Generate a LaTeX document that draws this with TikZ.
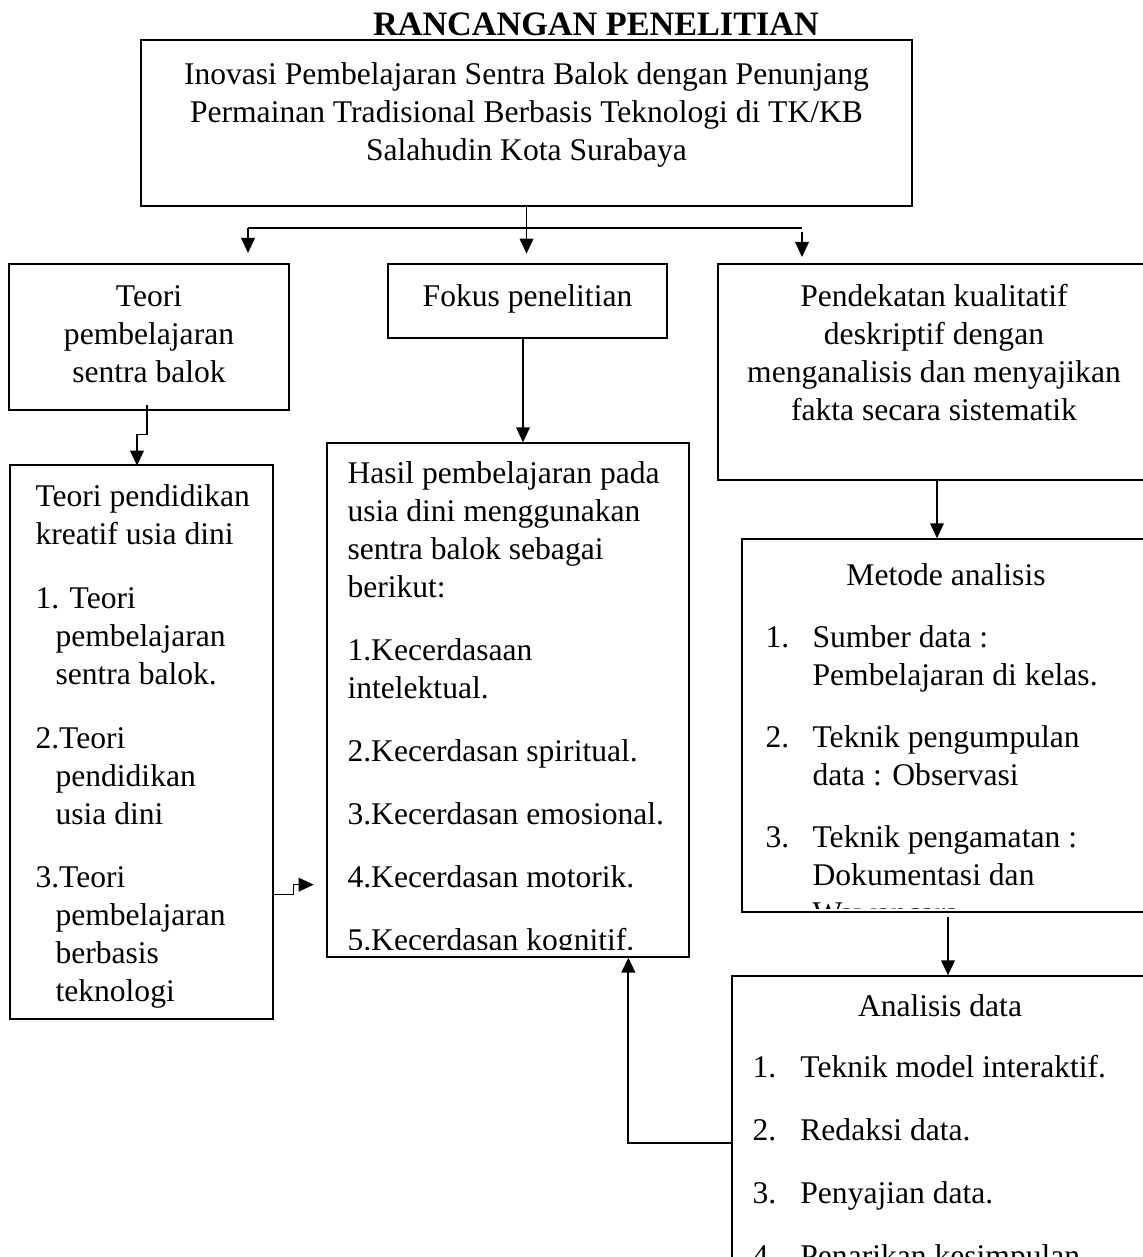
\documentclass[tikz,border=0pt]{standalone}
\usepackage{fontspec}
\setmainfont{Liberation Serif}
\usetikzlibrary{calc,fit,arrows.meta}

\tikzset{
	kotak/.style={draw, line width=0.5pt, inner sep=0pt},
	teks/.style={inner sep=0pt, font=\fontsize{12}{14.44}\selectfont},
	panah/.style={line width=0.5pt, -{Triangle[length=5.7pt,width=5.2pt]}},
	panahtebal/.style={panah, line width=0.8pt}
}

\begin{document}
\begin{tikzpicture}[x=0.38pt, y=-0.38pt]
				\useasboundingbox (0,0) rectangle (1143,1257);
				\clip (0,0) rectangle (1143,1257);
				
				\node[teks, font=\fontsize{13}{15.6}\selectfont\bfseries, anchor=base] (judul) at (596,36) {RANCANGAN PENELITIAN};
				
				\node[kotak, fit={(141,40) (912,206)}] (inovasi) {};
				\node[kotak, fit={(9,264) (289,410)}] (teori) {};
				\node[kotak, fit={(388,264) (667,338)}] (fokus) {};
				\node[kotak, fit={(718,264) (1150,480)}] (pendekatan) {};
				\node[kotak, fit={(10,465) (273,1019)}] (pendidikan) {};
				\node[kotak, fit={(327,443) (689,957)}] (hasil) {};
				\node[kotak, fit={(742,539) (1150,912)}] (metode) {};
				\node[kotak, fit={(732,976) (1150,1300)}] (analisis) {};
				
				\node[teks, anchor=north, align=center] at (526.5,57.7) {\rule{0pt}{10pt}Inovasi Pembelajaran Sentra Balok dengan Penunjang\\ Permainan Tradisional Berbasis Teknologi di TK/KB\\ Salahudin Kota Surabaya};
				\node[teks, anchor=north, align=center] at (149,279.7) {\rule{0pt}{10pt}Teori\\ pembelajaran\\ sentra balok};
				\node[teks, anchor=base] at (527.5,306) {Fokus penelitian};
				\node[teks, anchor=north, align=center] at (934,279.7) {\rule{0pt}{10pt}Pendekatan kualitatif\\ deskriptif dengan\\ menganalisis dan menyajikan\\ fakta secara sistematik};
				
				\node[teks, anchor=north west, align=left] at (35,479.7) {\rule{0pt}{10pt}Teori pendidikan\\ kreatif usia dini\\[9.8pt] 1. Teori\\ \hspace*{7.6pt}pembelajaran\\ \hspace*{7.6pt}sentra balok.\\[9.8pt] 2.Teori\\ \hspace*{7.6pt}pendidikan\\ \hspace*{7.6pt}usia dini\\[9.8pt] 3.Teori\\ \hspace*{7.6pt}pembelajaran\\ \hspace*{7.6pt}berbasis\\ \hspace*{7.6pt}teknologi};
				
				\begin{scope}
					\clip (hasil.north west) rectangle ($(hasil.south east)+(0,-8)$);
					\node[teks, anchor=north west, align=left] at (347,456.7) {\rule{0pt}{10pt}Hasil pembelajaran pada\\ usia dini menggunakan\\ sentra balok sebagai\\ berikut:\\[9.5pt] 1.Kecerdasaan\\ intelektual.\\[9.5pt] 2.Kecerdasan spiritual.\\[9.5pt] 3.Kecerdasan emosional.\\[9.5pt] 4.Kecerdasan motorik.\\[9.5pt] 5.Kecerdasan kognitif.};
				\end{scope}
				
				\begin{scope}
					\clip (metode.north west) rectangle ($(metode.south east)+(0,-4)$);
					\node[teks, anchor=base] at (946,585) {Metode analisis};
					\node[teks, anchor=north west, align=left] at (765,620.7) {\rule{0pt}{10pt}\makebox[17.9pt][l]{1.}Sumber data :\\ \hspace*{17.9pt}Pembelajaran di kelas.\\[9.1pt] \makebox[17.9pt][l]{2.}Teknik pengumpulan\\ \hspace*{17.9pt}data : Observasi\\[9.1pt] \makebox[17.9pt][l]{3.}Teknik pengamatan :\\ \hspace*{17.9pt}Dokumentasi dan\\ \hspace*{17.9pt}Wawancara};
				\end{scope}
				
				\node[teks, anchor=base] at (940,1016) {Analisis data};
				\node[teks, anchor=north west, align=left] at (752,1050.7) {\rule{0pt}{10pt}\makebox[18.2pt][l]{1.}Teknik model interaktif.\\[9.5pt] \makebox[18.2pt][l]{2.}Redaksi data.\\[9.5pt] \makebox[18.2pt][l]{3.}Penyajian data.\\[9.5pt] \makebox[18.2pt][l]{4.}Penarikan kesimpulan.};
				
				\coordinate (cabangkiri) at (248,228);
				\coordinate (cabangkanan) at (802,228);
				\draw[line width=0.5pt] (cabangkiri) -- (cabangkanan);
				\draw[panah] (inovasi.south) -- ++(0,47);
				\draw[panah] (cabangkiri) -- ++(0,25);
				\draw[panah] ($(cabangkanan)+(0,4)$) -- ++(0,25);
				
				\draw[panah] ($(fokus.south)+(-4.5,0)$) coordinate (f1) -- (f1 |- hasil.north);
				\draw[panah] ($(teori.south)+(-2,-6)$) -- ++(0,30) -- ++(-10,0) -- ++(0,31);
				\draw[panah] ($(pendidikan.south east)+(0,-125)$) -- ++(20,0) -- ++(0,-10) -- ++(20,0);
				\draw[panah] ($(pendekatan.south)+(3,0)$) coordinate (p1) -- (p1 |- metode.north);
				\draw[panah] ($(metode.south)+(2,4)$) coordinate (m1) -- (m1 |- analisis.north);
				\draw[panahtebal] ($(analisis.north west)+(0,168)$) -- ++(-103,0) coordinate (a1) -- (a1 |- hasil.south);
			\end{tikzpicture}
\end{document}
